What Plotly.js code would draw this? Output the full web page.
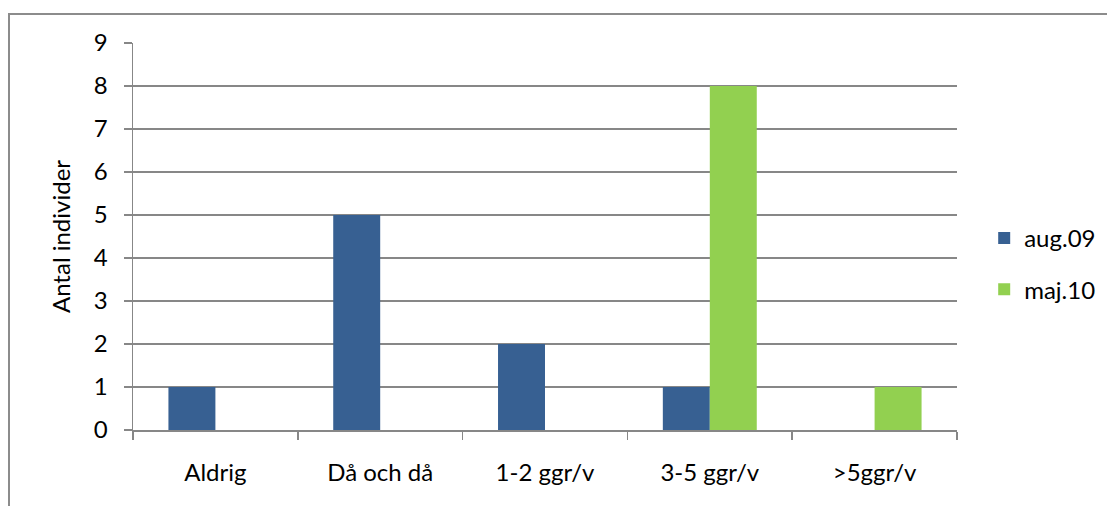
<!DOCTYPE html>
<html>
<head>
<meta charset="utf-8">
<script src="https://cdn.plot.ly/plotly-3.0.1.min.js"></script>
<style>
  html, body { margin: 0; padding: 0; background: #fff; overflow: hidden; }
  #chart { width: 1107px; height: 506px; position: absolute; left: 0; top: 0; }
  #frame { position: absolute; left: 8px; top: 13px; width: 1200px; height: 600px;
           border-left: 2px solid #8c8c8c; border-top: 2px solid #8c8c8c; pointer-events: none; }
</style>
</head>
<body>
<div id="chart"></div>
<div id="frame"></div>
<script>
const categories = ["Aldrig", "Då och då", "1-2 ggr/v", "3-5 ggr/v", ">5ggr/v"];
const aug09 = [1, 5, 2, 1, 0];
const maj10 = [0, 0, 0, 8, 1];
const seriesNames = ["aug.09", "maj.10"];
const yTitle = "Antal individer";

const font = "Lato, 'Open Sans', sans-serif";
const grid = "#878787";

const data = [
  { type: "bar", x: categories, y: aug09, name: seriesNames[0], legendgroup: "a", marker: { color: "#376092" } },
  { type: "bar", x: categories, y: maj10, name: seriesNames[1], legendgroup: "b", marker: { color: "#92D050" } }
];

const layout = {
  width: 1107, height: 506,
  margin: { l: 133, r: 150, t: 43, b: 76, autoexpand: false },
  paper_bgcolor: "#fff", plot_bgcolor: "#fff",
  barmode: "group", bargap: 0.43, bargroupgap: 0,
  font: { family: font, size: 24, color: "#000" },
  showlegend: true,
  legend: { x: 1.033, y: 0.553, xanchor: "left", yanchor: "top", traceorder: "grouped",
            font: { family: font, size: 24, color: "#000" }, tracegroupgap: 17, itemwidth: 30 },
  xaxis: {
    type: "category", showgrid: false, showline: true, linecolor: grid, linewidth: 1.5,
    ticks: "outside", tickson: "boundaries", ticklen: 8, tickcolor: grid, tickwidth: 1.5,
    ticklabelstandoff: 21, zeroline: false, automargin: false
  },
  yaxis: {
    range: [0, 9], dtick: 1, showgrid: true, gridcolor: grid, gridwidth: 1.5,
    showline: true, linecolor: grid, linewidth: 1.5, ticks: "outside", ticklen: 8,
    tickcolor: grid, tickwidth: 1.5, ticklabelstandoff: 11, zeroline: false, automargin: false,
    title: { text: yTitle, font: { family: font, size: 24 }, standoff: 16 }
  }
};

Plotly.newPlot("chart", data, layout, { displayModeBar: false, staticPlot: true });
</script>
</body>
</html>
